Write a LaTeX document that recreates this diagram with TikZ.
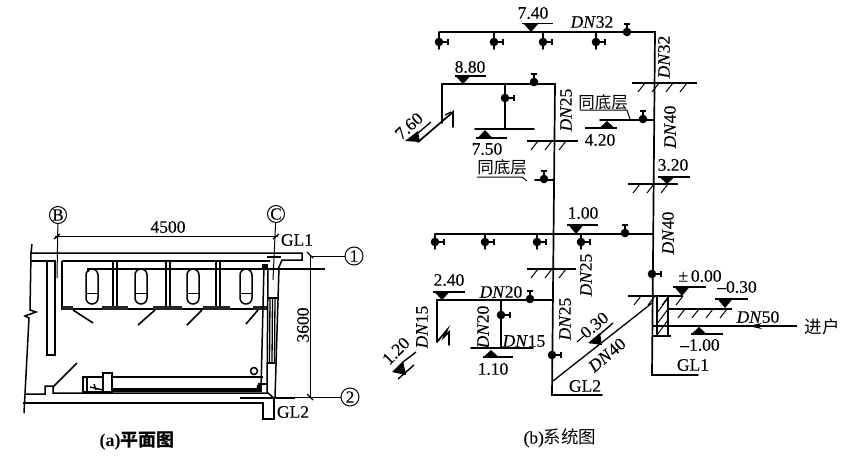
\documentclass[tikz,border=0pt]{standalone}
\usepackage{fontspec}
\setmainfont{Liberation Serif}
\newfontfamily\labf[FakeBold=0.2,ItalicFeatures={FakeBold=0.2}]{Liberation Serif}
\newfontfamily\cjkf{Noto Sans CJK SC}
\usetikzlibrary{arrows.meta}
\tikzset{
 pipe/.style={line width=1.7pt,line cap=round,line join=miter},
 thinl/.style={line width=1pt},
 wall/.style={line width=1.5pt},
 lab/.style={inner sep=0pt,font=\fontsize{17.5}{19}\selectfont\labf},
 cjk/.style={inner sep=0pt,font=\fontsize{16.5}{18}\selectfont\cjkf},
 axisc/.style={draw,circle,line width=1pt,minimum size=17pt,inner sep=0pt,font=\fontsize{17}{17}\selectfont\labf},
 hatchl/.style={line width=1pt},
}
\newcommand{\dn}[1]{\textit{DN}#1}
\newcommand{\fixt}[3]{\draw[pipe] (#1,#2) -- (#1,#3+7);
 \fill (#1,#3) circle[radius=4.3pt];
 \draw[line width=1.3pt] (#1,#3) -- (#1+9,#3) (#1+9,#3-3) -- (#1+9,#3+3);}
\newcommand{\ballT}[2]{\fill (#1,#2) circle[radius=4.3pt];
 \draw[line width=1.3pt] (#1,#2) -- (#1+9,#2) (#1+9,#2-3) -- (#1+9,#2+3);}
\newcommand{\valveup}[2]{\fill (#1,#2) circle[radius=4.3pt];
 \draw[line width=1.3pt] (#1,#2) -- (#1,#2-8) (#1-3,#2-8) -- (#1+3,#2-8);}
\newcommand{\elevmark}[5]{\draw[line width=1.4pt] (#1,#3) -- (#2,#3);
 \fill (#4-7.5,#3) -- (#4+7.5,#3) -- (#4,#5) -- cycle;}
\newcommand{\floorh}[5]{\draw[line width=1.5pt] (#1,#3) -- (#2,#3);
 \foreach \hx in {#4,#5,...,#2} {\draw[hatchl] (\hx,#3) -- (\hx-7,#3+9);}}
\begin{document}
\begin{tikzpicture}[x=1pt,y=-1pt]
\useasboundingbox (0,0) rectangle (846,460);
\fill[white] (0,0) rectangle (846,460);
% ---------- PLAN ----------
\node[axisc] (axB) at (58,215) {B};
\node[axisc] (axC) at (276,214) {C};
\draw[thinl] (axB) -- (57,278);
\draw[thinl] (axC) -- (273,280);
\draw[thinl] (55,236.5) -- (278,236.5);
\draw[line width=1.3pt] (54,239) -- (60,234) (273,239) -- (279,234);
\node[lab] (t4500) at (168,227) {4500};
\node[lab] (tgl1) at (297,240) {GL1};
\node[lab] (tgl2) at (293,412) {GL2};
% walls
\draw[wall] (32,244) -- (31,253) -- (302,253) -- (302,260) -- (282,260) -- (279,267) -- (275,398);
\draw[wall] (31,261) -- (55,261) -- (55,355) -- (47,355) -- (47,261);
\draw[wall] (62,261) -- (270,261);
\draw[wall] (62,261) -- (62,310);
\draw[wall] (31,253) -- (30,310) -- (36,312) -- (25,316) -- (29,318) -- (24,413);
\draw[wall] (25,394) -- (45,394) -- (45,386) -- (53,386) -- (53,393) -- (268,393) -- (275,399);
\draw[wall] (23,403) -- (263,403) -- (263,419) -- (274,419) -- (274,398);
\draw[wall] (268,270) -- (267,393);
\draw[line width=1.1pt] (267,257) -- (281,257);
\draw[line width=1.1pt] (240,398) -- (295,398);
% pipes and axis lines
\draw[wall] (88,272) -- (88,269) -- (325,269);
\draw[thinl] (310,255) -- (310,397);
\draw[line width=1.3pt] (307,252) -- (313,258) (307,394) -- (313,400);
\node[axisc,minimum size=18pt] (ax1) at (354,256) {1};
\node[axisc,minimum size=18pt] (ax2) at (350,397) {2};
\draw[thinl] (310,256) -- (ax1);
\draw[thinl] (295,397) -- (ax2);
\node[lab,rotate=90] (t3600) at (303,325) {3600};
% toilets
\foreach \tx in {92,141,193,246} {
 \draw[wall] (\tx-6,298) -- (\tx-6,275) arc[start angle=180,end angle=0,radius=6pt] -- (\tx+6,298) arc[start angle=0,end angle=-180,radius=6pt];
 \draw[thinl] (\tx-6,293) -- (\tx+6,293);
}
% partitions
\foreach \px in {115,168,218} {
 \draw[wall] (\px-2,262) -- (\px-2,308) (\px+2,262) -- (\px+2,308);
}
\draw[wall] (62,309) -- (267,309);
\foreach \a/\b in {62/73,102/128,153/182,203/230,253/267} {
 \fill[black!85] (\a,305.5) rectangle (\b,309.5);
}
\draw[line width=1.6pt] (73,310) -- (93,323) (155,310) -- (138,325) (202,310) -- (187,325) (258,310) -- (246,324);
% right side window and pipe
\draw[wall] (264,265) -- (261,390);
\fill (262,264) rectangle (268,268);
\draw[wall] (268,298) -- (278,298) (268,363) -- (276,363);
\foreach \wx in {270,272.5,275} {\draw[line width=1.3pt] (\wx,298) -- (\wx-.5,363);}
% counter
\draw[wall] (83,377) -- (263,377);
\draw[wall] (83,377) rectangle (110,392);
\draw[wall] (87,377) -- (87,392);
\fill[white] (103,373) rectangle (112,392);
\draw[wall] (103,373) rectangle (112,392);
\draw[line width=1.4pt] (94,384) -- (96,390) (90,387) -- (103,390);
\fill (112,387.5) rectangle (262,391.5);
\fill (259,387) circle[radius=2.5pt];
\draw[wall] (254,371) circle[radius=3.5pt];
\draw[wall] (258,384) -- (268,384);
\draw[line width=1.6pt] (53,387) -- (77,363);
\node[inner sep=0pt,font=\fontsize{18}{19}\selectfont\bfseries\cjkf] (capA) at (137,441) {{\fontspec{Liberation Serif}\bfseries (a)}平面图};
% ---------- SYSTEM ----------
\draw[pipe] (440,32) -- (655,32) -- (652,375) -- (698,375);
\draw[pipe] (442,123) -- (442,84) -- (555,84) -- (552,395) -- (602,395);
% top main
\fixt{439}{32}{42}\fixt{494}{32}{42}\fixt{543}{32}{42}\fixt{596}{32}{42}
\valveup{627}{32}
\elevmark{522}{553}{23.5}{531}{32}
\node[lab] (t740) at (533,13) {7.40};
\node[lab] (d32a) at (592,22) {\dn{32}};
\node[lab,rotate=90] (d32b) at (664,57) {\dn{32}};
\floorh{632}{697}{83}{645}{659}
% 8.80 branch
\elevmark{455}{486}{76}{463}{84}
\node[lab] (t880) at (470,67) {8.80};
\valveup{534}{82}
\draw[pipe] (505,84) -- (505,129);
\ballT{505}{98}
\draw[pipe] (475,129) -- (534,129);
\elevmark{476}{507}{138}{485}{130}
\node[lab] (t750) at (487,149) {7.50};
\node[lab,rotate=90] (d25a) at (566,110) {\dn{25}};
\floorh{527}{578}{141}{538}{552}
% shower branch 7.60
\draw[pipe] (418,142) -- (453,112) -- (453,127);
\draw[line width=1.3pt] (445,115) -- (451,112);
\draw[line width=1.3pt] (418,133) -- (431,122);
\fill (405,141) -- (420,142) -- (418,131) -- cycle;
\node[lab,rotate=42] (t760) at (409,126) {7.60};
% 4.20 branch
\draw[pipe] (600,120) -- (654,120);
\valveup{643}{119}
\elevmark{585}{617}{128}{607}{121}
\node[lab] (t420) at (600,140) {4.20};
\node[cjk] (tsame1) at (603,102) {同底层};
\draw[thinl] (580,110) -- (627,110) -- (630,119);
\node[lab,rotate=90] (d40a) at (670,127) {\dn{40}};
% 3.20
\elevmark{658}{690}{177}{667}{184}
\node[lab] (t320) at (673,165) {3.20};
\floorh{628}{678}{184}{640}{654}
% second note
\draw[pipe] (535,180) -- (553,180);
\valveup{544}{179}
\node[cjk] (tsame2) at (502,167) {同底层};
\draw[thinl] (477,177) -- (522,177) -- (527,181);
% 1.00 main
\draw[pipe] (435,234) -- (653,234);
\fixt{435}{234}{242}\fixt{485}{234}{242}\fixt{537}{234}{242}\fixt{581}{234}{242}
\valveup{625}{233}
\elevmark{567}{598}{225}{576}{234}
\node[lab] (t100) at (583,213) {1.00};
\node[lab,rotate=90] (d40b) at (668,233) {\dn{40}};
\ballT{652}{274}
\node[lab,rotate=90] (d25b) at (586,275) {\dn{25}};
\floorh{527}{576}{269}{538}{552}
% 2.40 branch
\draw[pipe] (437,342) -- (437,300) -- (552,300);
\elevmark{433}{465}{292}{442}{300}
\node[lab] (t240) at (449,280) {2.40};
\node[lab] (d20a) at (501,292) {\dn{20}};
\valveup{530}{299}
\draw[pipe] (437,342) -- (447,330) -- (444,337) -- (449,332) -- (449,345);
\draw[pipe] (501,300) -- (501,347);
\ballT{501}{315}
\draw[pipe] (471,348) -- (533,348);
\elevmark{483}{513}{357}{491}{350}
\node[lab] (t110) at (493,369) {1.10};
\node[lab,rotate=90] (d20b) at (483,327) {\dn{20}};
\node[lab] (d15a) at (524,341) {\dn{15}};
\node[lab,rotate=90] (d15b) at (422,327) {\dn{15}};
\draw[line width=1.4pt] (398,379) -- (414,365);
\draw[line width=1.4pt] (403,362) -- (416,352);
\fill (392,372) -- (406,375) -- (403,361) -- cycle;
\node[lab,rotate=45] (t120) at (396,351) {1.20};
\node[lab,rotate=90] (d25c) at (565,319) {\dn{25}};
\ballT{552}{355}
\node[lab] (tgl2b) at (585,386) {GL2};
% diagonal to GL1
\draw[line width=1.3pt] (553,381) -- (652,303);
\draw[line width=1.4pt] (590,343) -- (613,323);
\fill (588,343) -- (602,345) -- (600,333) -- cycle;
\node[lab,rotate=40] (t030b) at (591,328) {–0.30};
\node[lab,rotate=40] (d40c) at (607,355) {\dn{40}};
% foundation
\floorh{628}{683}{296}{641}{655}
\foreach \fy in {308,319,330} {\draw[hatchl] (668,\fy-10) -- (657,\fy+5);}
\draw[line width=1.5pt] (657,296) -- (657,336) (668,296) -- (668,336);
\draw[line width=1.5pt] (652,336) -- (671,336);
\floorh{668}{732}{309}{685}{699}
\elevmark{673}{706}{287}{682}{296}
\node[lab] (t000) at (700,276) {±\,0.00};
\elevmark{715}{748}{299}{725}{308}
\node[lab] (t030) at (737,287) {–0.30};
\node[lab] (d50) at (758,317) {\dn{50}};
\node[cjk,font=\fontsize{17.5}{19}\selectfont\cjkf] (tin) at (822,327) {进户};
\coordinate (inEnd) at (797,326);
\coordinate (inRiser) at (652,326);
\draw[line width=1.2pt] (inEnd) -- (inRiser);
\draw[-{Stealth[length=14pt,width=6pt]},line width=1.2pt] (inEnd) -- (748,326);
\elevmark{691}{723}{334}{699}{327}
\node[lab] (t100b) at (700,345) {–1.00};
\node[lab] (tgl1b) at (693,365) {GL1};
\node[inner sep=0pt,font=\fontsize{17.5}{19}\selectfont\cjkf] (capB) at (560,438) {{\labf (b)}系统图};
\end{tikzpicture}
\end{document}
